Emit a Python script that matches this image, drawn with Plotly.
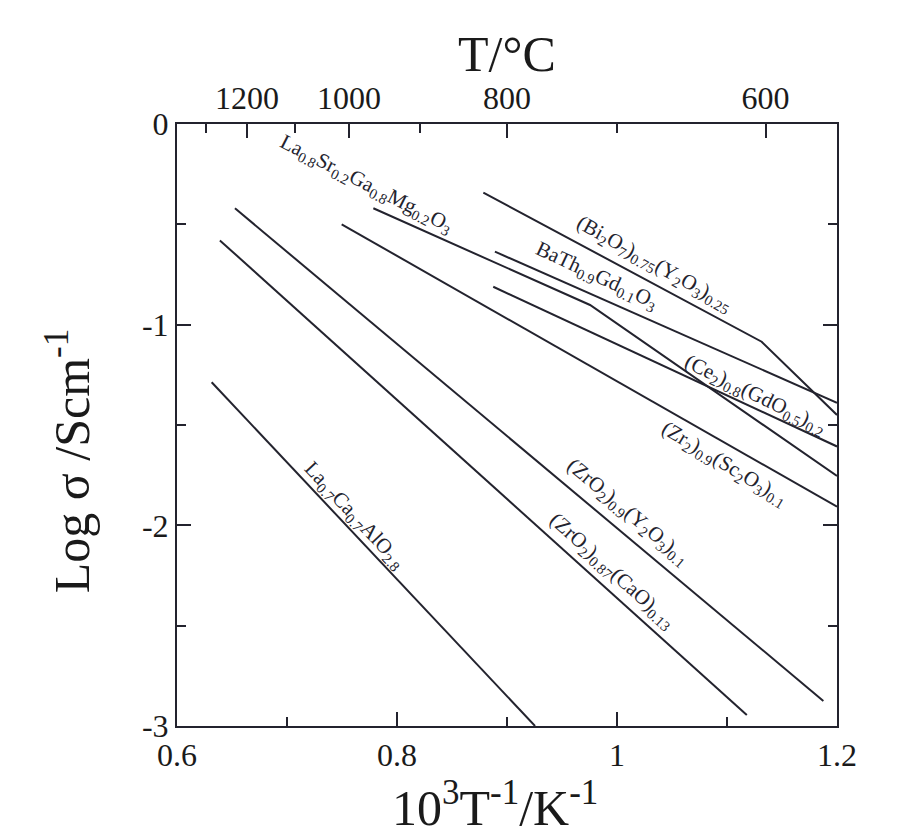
import plotly.graph_objects as go

# ---- data: x = 10^3/T (K^-1), y = log(sigma / S cm^-1) ----
lsgm_x = [0.7785, 0.9755, 1.2]
lsgm_y = [-0.420, -0.902, -1.754]

bi_x = [0.8785, 1.1315, 1.2]
bi_y = [-0.342, -1.085, -1.450]

bath_x = [0.889, 1.2]
bath_y = [-0.636, -1.389]

ce_x = [0.8875, 1.2]
ce_y = [-0.811, -1.607]

zrsc_x = [0.7497, 1.2]
zrsc_y = [-0.500, -1.907]

ysz_x = [0.6527, 1.1876]
ysz_y = [-0.420, -2.875]

csz_x = [0.639, 1.118]
csz_y = [-0.580, -2.945]

lca_x = [0.6315, 0.9255]
lca_y = [-1.287, -3.0]

# axis ticks
x_ticks = [0.6, 0.8, 1.0, 1.2]
x_tick_text = ["0.6", "0.8", "1", "1.2"]
x_minor = [0.7, 0.9, 1.1]
y_ticks = [0, -1, -2, -3]
y_tick_text = ["0", "-1", "-2", "-3"]
y_minor = [-0.5, -1.5, -2.5]
# temperature scale (top), positions as drawn in the picture
temp_pos = [0.6636, 0.7564, 0.9, 1.135]
temp_text = ["1200", "1000", "800", "600"]
temp_minor = [0.626, 0.707, 0.8206, 1.0]

# line labels: (text, x, y, angle)
labels = [
    ("La<sub>0.8</sub>Sr<sub>0.2</sub>Ga<sub>0.8</sub>Mg<sub>0.2</sub>O<sub>3</sub>", 0.772, -0.300, 27),
    ("(Bi<sub>2</sub>O<sub>7</sub>)<sub>0.75</sub>(Y<sub>2</sub>O<sub>3</sub>)<sub>0.25</sub>", 1.034, -0.700, 29),
    ("BaTh<sub>0.9</sub>Gd<sub>0.1</sub>O<sub>3</sub>", 0.982, -0.757, 25),
    ("(Ce<sub>2</sub>)<sub>0.8</sub>(GdO<sub>0.5</sub>)<sub>0.2</sub>", 1.126, -1.350, 26),
    ("(Zr<sub>2</sub>)<sub>0.9</sub>(Sc<sub>2</sub>O<sub>3</sub>)<sub>0.1</sub>", 1.098, -1.694, 31),
    ("(ZrO<sub>2</sub>)<sub>0.9</sub>(Y<sub>2</sub>O<sub>3</sub>)<sub>0.1</sub>", 1.010, -1.933, 40),
    ("(ZrO<sub>2</sub>)<sub>0.87</sub>(CaO)<sub>0.13</sub>", 0.9955, -2.227, 42),
    ("La<sub>0.7</sub>Ca<sub>0.7</sub>AlO<sub>2.8</sub>", 0.7618, -1.953, 47),
]

# axis titles: (text, paper x, paper y, angle, y anchor)
titles = [
    ("T/°C", 0.50, 1.117, 0, "middle"),
    ("10<sup>3</sup>T<sup>-1</sup>/K<sup>-1</sup>", 0.482, -0.076, 0, "top"),
    ("Log σ /Scm<sup>-1</sup>", -0.165, 0.44, -90, "middle"),
]

LINE = "#23232e"
TXT = "#1a1a1a"
FONT = "Liberation Serif, Times New Roman, serif"

fig = go.Figure()
for xs, ys in [(lsgm_x, lsgm_y), (bi_x, bi_y), (bath_x, bath_y), (ce_x, ce_y),
               (zrsc_x, zrsc_y), (ysz_x, ysz_y), (csz_x, csz_y), (lca_x, lca_y)]:
    fig.add_trace(go.Scatter(x=xs, y=ys, mode="lines",
                             line=dict(color=LINE, width=2), showlegend=False,
                             hoverinfo="skip"))
# invisible trace to activate the top temperature axis
fig.add_trace(go.Scatter(x=[None], y=[None], xaxis="x2", showlegend=False, hoverinfo="skip"))

for txt, x, y, ang in labels:
    fig.add_annotation(x=x, y=y, xref="x", yref="y", text=txt, showarrow=False,
                       textangle=ang, font=dict(family=FONT, size=21, color=LINE))

for txt, x, y, ang, ya in titles:
    fig.add_annotation(x=x, y=y, xref="paper", yref="paper", text=txt, showarrow=False,
                       textangle=ang, xanchor="center", yanchor=ya, borderpad=0,
                       font=dict(family=FONT, size=50, color=TXT))

axis_common = dict(showline=True, linecolor=LINE, linewidth=2, ticks="inside",
                   tickcolor=LINE, tickwidth=2, showgrid=False, zeroline=False,
                   tickfont=dict(family=FONT, size=32, color=TXT))

fig.update_layout(
    width=909, height=836,
    margin=dict(l=169, r=80, t=116, b=118),
    paper_bgcolor="white", plot_bgcolor="white",
    font=dict(family=FONT, color=TXT),
    xaxis=dict(range=[0.6, 1.2], tickmode="array", tickvals=x_ticks, ticktext=x_tick_text,
               ticklen=14, minor=dict(tickmode="array", tickvals=x_minor, ticks="inside",
                                      ticklen=9, tickcolor=LINE, tickwidth=2),
               **axis_common),
    xaxis2=dict(range=[0.6, 1.2], overlaying="x", side="top", anchor="y",
                tickmode="array", tickvals=temp_pos, ticktext=temp_text, ticklen=14,
                minor=dict(tickmode="array", tickvals=temp_minor, ticks="inside",
                           ticklen=9, tickcolor=LINE, tickwidth=2),
                **axis_common),
    yaxis=dict(range=[-3, 0], tickmode="array", tickvals=y_ticks, ticktext=y_tick_text,
               ticklen=14, mirror="ticks",
               minor=dict(tickmode="array", tickvals=y_minor, ticks="inside",
                          ticklen=9, tickcolor=LINE, tickwidth=2),
               **axis_common),
)

fig.write_html("out.html")
